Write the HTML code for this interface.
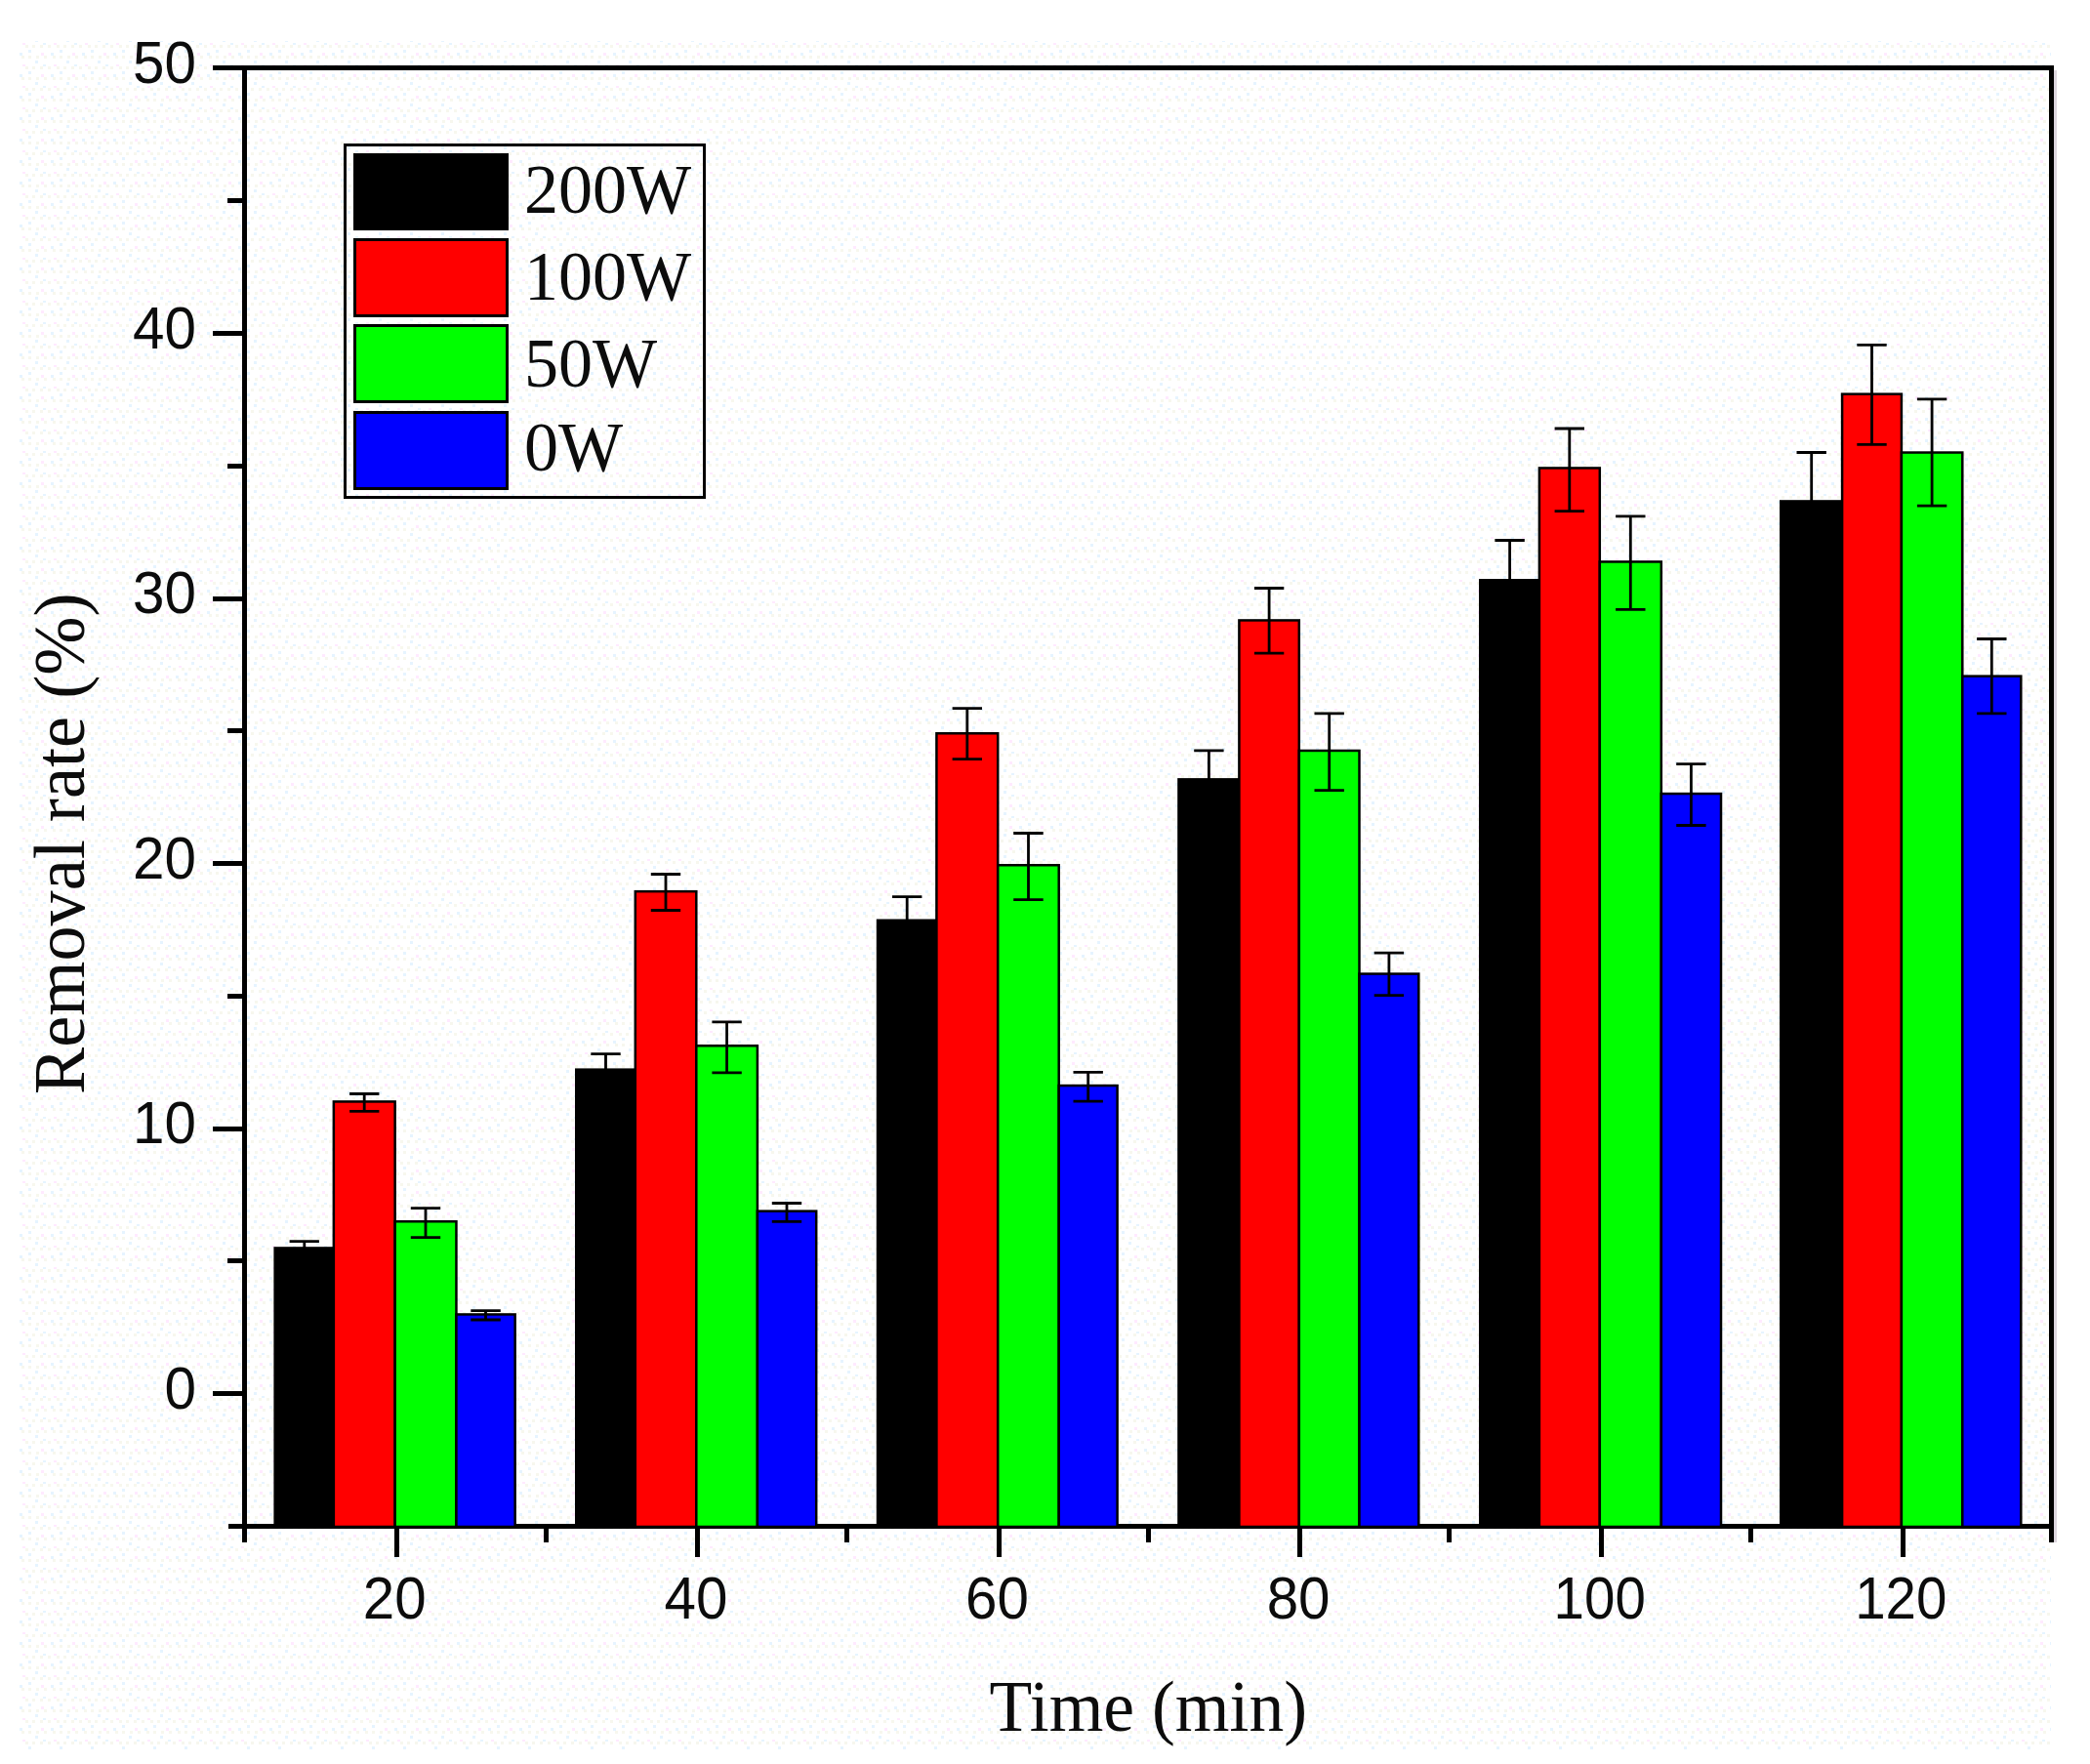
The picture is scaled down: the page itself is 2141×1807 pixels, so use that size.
<!DOCTYPE html>
<html lang="en"><head><meta charset="utf-8"><title>Removal rate vs time</title>
<style>html,body{margin:0;padding:0;background:#fff}body{width:2141px;height:1807px;overflow:hidden}svg{display:block}
.sans{font-family:"Liberation Sans",Arial,sans-serif;font-size:61px;fill:#0c0c0c}
.serif{font-family:"Liberation Serif","Times New Roman",serif;fill:#0c0c0c}
</style></head><body>
<svg width="2141" height="1807" viewBox="0 0 2141 1807">
<rect x="0" y="0" width="2141" height="1807" fill="#ffffff"/>
<defs><pattern id="dz" width="32" height="22" patternUnits="userSpaceOnUse"><g fill="#f7f7ee"><rect x="1" y="2" width="3" height="3"/><rect x="9" y="2" width="3" height="3"/><rect x="17" y="2" width="3" height="3"/><rect x="26" y="2" width="3" height="3"/><rect x="5" y="13" width="3" height="3"/><rect x="13" y="13" width="3" height="3"/><rect x="22" y="13" width="3" height="3"/><rect x="29" y="13" width="3" height="3"/></g><g fill="#e6f4ff"><rect x="12" y="-1" width="3" height="3"/><rect x="20" y="10" width="3" height="3"/><rect x="4" y="18" width="3" height="3"/><rect x="29" y="7" width="3" height="3"/></g><g fill="#ffeaff"><rect x="23" y="-1" width="3" height="3"/><rect x="10" y="10" width="3" height="3"/></g></pattern></defs>
<rect x="20" y="42" width="2081" height="1750" fill="url(#dz)"/>
<rect x="2104" y="72" width="3" height="1508" fill="#ddd6de"/>
<g stroke="#000" stroke-width="5" fill="none" shape-rendering="crispEdges">
<path d="M218 69.5H2104"/>
<path d="M234 1563.5H2104"/>
<path d="M250.5 67V1580"/>
<path d="M2101.5 67V1580"/>
<path d="M218 1427.5H249"/>
<path d="M218 1156.0H249"/>
<path d="M218 884.5H249"/>
<path d="M218 613.0H249"/>
<path d="M218 341.5H249"/>
<path d="M233 1291.8H249"/>
<path d="M233 1020.2H249"/>
<path d="M233 748.8H249"/>
<path d="M233 477.2H249"/>
<path d="M233 205.8H249"/>
<path d="M406.0 1564V1594.5"/>
<path d="M714.6 1564V1594.5"/>
<path d="M1023.2 1564V1594.5"/>
<path d="M1331.8 1564V1594.5"/>
<path d="M1640.4 1564V1594.5"/>
<path d="M1949.0 1564V1594.5"/>
<path d="M559.1 1564V1579.5"/>
<path d="M867.6 1564V1579.5"/>
<path d="M1176.1 1564V1579.5"/>
<path d="M1484.6 1564V1579.5"/>
<path d="M1793.1 1564V1579.5"/>
</g>
<g stroke="#000" stroke-width="2.5">
<rect x="281.65" y="1278.45" width="60.20" height="285.55" fill="#000000"/>
<rect x="341.85" y="1128.45" width="62.80" height="435.55" fill="#ff0000"/>
<rect x="404.65" y="1251.25" width="62.80" height="312.75" fill="#00ff00"/>
<rect x="467.45" y="1346.45" width="60.20" height="217.55" fill="#0000ff"/>
<rect x="590.25" y="1095.65" width="60.55" height="468.35" fill="#000000"/>
<rect x="650.80" y="913.15" width="62.50" height="650.85" fill="#ff0000"/>
<rect x="713.30" y="1071.25" width="62.60" height="492.75" fill="#00ff00"/>
<rect x="775.90" y="1240.65" width="60.30" height="323.35" fill="#0000ff"/>
<rect x="899.05" y="942.75" width="60.35" height="621.25" fill="#000000"/>
<rect x="959.40" y="751.25" width="62.80" height="812.75" fill="#ff0000"/>
<rect x="1022.20" y="886.25" width="62.50" height="677.75" fill="#00ff00"/>
<rect x="1084.70" y="1112.05" width="59.90" height="451.95" fill="#0000ff"/>
<rect x="1207.45" y="798.35" width="61.95" height="765.65" fill="#000000"/>
<rect x="1269.40" y="635.45" width="61.40" height="928.55" fill="#ff0000"/>
<rect x="1330.80" y="768.95" width="61.70" height="795.05" fill="#00ff00"/>
<rect x="1392.50" y="997.55" width="60.80" height="566.45" fill="#0000ff"/>
<rect x="1516.25" y="594.25" width="60.65" height="969.75" fill="#000000"/>
<rect x="1576.90" y="479.45" width="61.90" height="1084.55" fill="#ff0000"/>
<rect x="1638.80" y="575.45" width="63.00" height="988.55" fill="#00ff00"/>
<rect x="1701.80" y="813.05" width="61.20" height="750.95" fill="#0000ff"/>
<rect x="1824.25" y="513.45" width="62.85" height="1050.55" fill="#000000"/>
<rect x="1887.10" y="403.65" width="60.80" height="1160.35" fill="#ff0000"/>
<rect x="1947.90" y="463.55" width="62.40" height="1100.45" fill="#00ff00"/>
<rect x="2010.30" y="692.65" width="60.00" height="871.35" fill="#0000ff"/>
</g>
<g stroke="#000" stroke-width="2.8" fill="none">
<path d="M296.6 1271.7H326.9M311.8 1271.7V1279.2"/>
<path d="M358.1 1120.5H388.4M373.2 1120.5V1138.3M358.1 1138.3H388.4"/>
<path d="M420.8 1237.6H451.2M436.0 1237.6V1267.6M420.8 1267.6H451.2"/>
<path d="M482.3 1342.6H512.8M497.5 1342.6V1352.0M482.3 1352.0H512.8"/>
<path d="M605.3 1079.6H635.7M620.5 1079.6V1096.4"/>
<path d="M666.8 895.5H697.2M682.0 895.5V932.5M666.8 932.5H697.2"/>
<path d="M729.4 1046.8H759.8M744.6 1046.8V1098.9M729.4 1098.9H759.8"/>
<path d="M790.8 1232.5H821.2M806.0 1232.5V1251.4M790.8 1251.4H821.2"/>
<path d="M914.0 918.6H944.4M929.2 918.6V943.5"/>
<path d="M975.6 725.6H1006.0M990.8 725.6V777.6M975.6 777.6H1006.0"/>
<path d="M1038.2 853.5H1068.7M1053.5 853.5V921.6M1038.2 921.6H1068.7"/>
<path d="M1099.5 1098.4H1129.9M1114.7 1098.4V1128.2M1099.5 1128.2H1129.9"/>
<path d="M1223.2 768.9H1253.6M1238.4 768.9V799.1"/>
<path d="M1284.9 602.5H1315.3M1300.1 602.5V669.2M1284.9 669.2H1315.3"/>
<path d="M1346.5 730.8H1376.9M1361.7 730.8V809.6M1346.5 809.6H1376.9"/>
<path d="M1407.7 976.1H1438.1M1422.9 976.1V1019.6M1407.7 1019.6H1438.1"/>
<path d="M1531.4 553.5H1561.8M1546.6 553.5V595.0"/>
<path d="M1592.6 439.0H1623.0M1607.8 439.0V523.6M1592.6 523.6H1623.0"/>
<path d="M1655.1 528.8H1685.5M1670.3 528.8V624.4M1655.1 624.4H1685.5"/>
<path d="M1717.2 782.6H1747.6M1732.4 782.6V845.5M1717.2 845.5H1747.6"/>
<path d="M1840.5 463.5H1870.9M1855.7 463.5V514.2"/>
<path d="M1902.3 353.3H1932.7M1917.5 353.3V455.3M1902.3 455.3H1932.7"/>
<path d="M1963.9 408.9H1994.3M1979.1 408.9V518.2M1963.9 518.2H1994.3"/>
<path d="M2025.1 654.5H2055.5M2040.3 654.5V730.8M2025.1 730.8H2055.5"/>
</g>
<g class="sans" text-anchor="end">
<text x="201" y="1442.5" textLength="32.5" lengthAdjust="spacingAndGlyphs">0</text>
<text x="201" y="1171.0" textLength="64.9" lengthAdjust="spacingAndGlyphs">10</text>
<text x="201" y="899.5" textLength="64.9" lengthAdjust="spacingAndGlyphs">20</text>
<text x="201" y="628.0" textLength="64.9" lengthAdjust="spacingAndGlyphs">30</text>
<text x="201" y="356.5" textLength="64.9" lengthAdjust="spacingAndGlyphs">40</text>
<text x="201" y="85.0" textLength="64.9" lengthAdjust="spacingAndGlyphs">50</text>
</g>
<g class="sans" text-anchor="middle">
<text x="404.3" y="1658" textLength="64.9" lengthAdjust="spacingAndGlyphs">20</text>
<text x="712.9" y="1658" textLength="64.9" lengthAdjust="spacingAndGlyphs">40</text>
<text x="1021.5" y="1658" textLength="64.9" lengthAdjust="spacingAndGlyphs">60</text>
<text x="1330.1" y="1658" textLength="64.9" lengthAdjust="spacingAndGlyphs">80</text>
<text x="1638.7" y="1658" textLength="94.2" lengthAdjust="spacingAndGlyphs">100</text>
<text x="1947.3" y="1658" textLength="94.2" lengthAdjust="spacingAndGlyphs">120</text>
</g>
<text class="serif" font-size="73" text-anchor="middle" x="1176.3" y="1772.5" textLength="325.4" lengthAdjust="spacingAndGlyphs">Time (min)</text>
<text class="serif" font-size="73" text-anchor="middle" transform="translate(85.8 864.3) rotate(-90)" textLength="513.5" lengthAdjust="spacingAndGlyphs">Removal rate (%)</text>
<rect x="353" y="148" width="368" height="361" fill="none" stroke="#000" stroke-width="3" shape-rendering="crispEdges"/>
<rect x="362" y="157" width="158.5" height="79" fill="#000" shape-rendering="crispEdges"/>
<text class="serif" font-size="72" x="537" y="218.2" textLength="171.1" lengthAdjust="spacingAndGlyphs">200W</text>
<rect x="363.5" y="245.7" width="155.5" height="78" fill="#ff0000" stroke="#000" stroke-width="3" shape-rendering="crispEdges"/>
<text class="serif" font-size="72" x="537" y="306.8" textLength="171.1" lengthAdjust="spacingAndGlyphs">100W</text>
<rect x="363.5" y="333.9" width="155.5" height="78" fill="#00ff00" stroke="#000" stroke-width="3" shape-rendering="crispEdges"/>
<text class="serif" font-size="72" x="537" y="395.5" textLength="136.1" lengthAdjust="spacingAndGlyphs">50W</text>
<rect x="363.5" y="422.1" width="155.5" height="78" fill="#0000ff" stroke="#000" stroke-width="3" shape-rendering="crispEdges"/>
<text class="serif" font-size="72" x="537" y="482.3" textLength="101.1" lengthAdjust="spacingAndGlyphs">0W</text>
</svg></body></html>
